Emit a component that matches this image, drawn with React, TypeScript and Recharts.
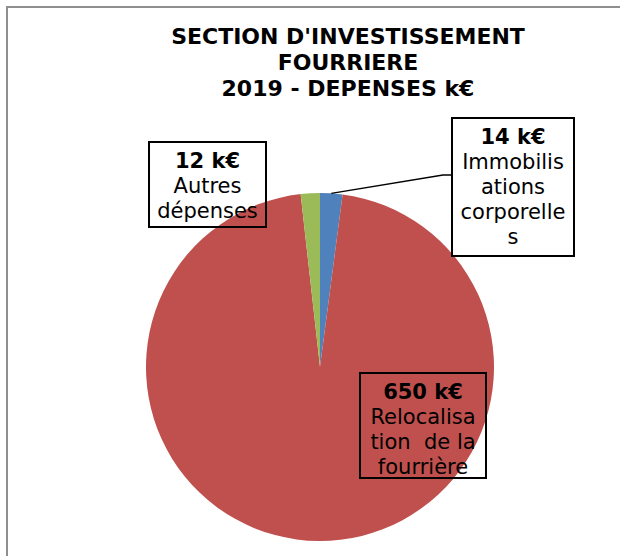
import { PieChart, Pie, Cell } from 'recharts'

const CATEGORIES = ['Immobilisations corporelles', 'Relocalisation de la fourrière', 'Autres dépenses']
const VALUES = [14, 650, 12]
const VALUE_LABELS = ['14 k€', '650 k€', '12 k€']
const LABEL_LINES = [
  ['Immobilis', 'ations', 'corporelle', 's'],
  ['Relocalisa', 'tion  de la', 'fourrière'],
  ['Autres', 'dépenses'],
]
const TITLE_LINES = ["SECTION D'INVESTISSEMENT", 'FOURRIERE', '2019 - DEPENSES k€']

const COLORS = ['#4f81bd', '#c0504d', '#9bbb59']
const FONT = 'Verdana, "DejaVu Sans", sans-serif'

// label box placement, relative to the pie centre
const BOXES = [
  { dx: 132, dy: -249, w: 122, h: 138, leader: true },
  { dx: 40, dy: 6, w: 126, h: 105, leader: false },
  { dx: -171, dy: -225, w: 117, h: 85, leader: false },
]

const data = CATEGORIES.map((name, i) => ({ name, value: VALUES[i] }))

const RADIAN = Math.PI / 180

function renderLabel(props: any) {
  const { cx, cy, midAngle, outerRadius, index } = props
  const box = BOXES[index]
  const x = cx + box.dx
  const y = cy + box.dy
  const lines = [VALUE_LABELS[index], ...LABEL_LINES[index]]
  const px = cx + outerRadius * Math.cos(-midAngle * RADIAN)
  const py = cy + outerRadius * Math.sin(-midAngle * RADIAN)
  return (
    <g key={`lbl-${index}`}>
      {box.leader && (
        <polyline
          points={`${px},${py} ${x - 9},${y + 57} ${x},${y + 57}`}
          fill="none"
          stroke="#000"
          strokeWidth={1.5}
        />
      )}
      <rect x={x} y={y} width={box.w} height={box.h} fill="none" stroke="#000" strokeWidth={2} />
      {lines.map((t, j) => (
        <text
          key={j}
          x={x + box.w / 2}
          y={y + 19 + j * 25}
          textAnchor="middle"
          dominantBaseline="central"
          fontFamily={FONT}
          fontSize={21}
          fontWeight={j === 0 ? 700 : 400}
          fill="#000"
          style={{ whiteSpace: 'pre' }}
        >
          {t}
        </text>
      ))}
    </g>
  )
}

export default function App() {
  return (
    <div
      style={{
        position: 'absolute',
        left: 0,
        top: 0,
        width: 620,
        height: 556,
        background: '#fff',
        overflow: 'hidden',
      }}
    >
      <div
        style={{
          position: 'absolute',
          left: 6,
          top: 6,
          width: 800,
          height: 800,
          border: '2px solid #8f8f8f',
        }}
      />
      <div
        style={{
          position: 'absolute',
          left: 148,
          top: 24,
          width: 400,
          textAlign: 'center',
          fontFamily: FONT,
          fontWeight: 700,
          fontSize: 22,
          lineHeight: '26px',
          color: '#000',
        }}
      >
        {TITLE_LINES.map((t, i) => (
          <div key={i}>{t}</div>
        ))}
      </div>
      <div style={{ position: 'absolute', left: 0, top: 0 }}>
        <PieChart width={620} height={556} margin={{ top: 0, right: 0, bottom: 0, left: 0 }}>
          <Pie
            data={data}
            dataKey="value"
            nameKey="name"
            cx={320}
            cy={367}
            outerRadius={174}
            startAngle={90}
            endAngle={-270}
            stroke="none"
            label={renderLabel}
            labelLine={false}
            isAnimationActive={false}
          >
            {data.map((_, i) => (
              <Cell key={i} fill={COLORS[i]} />
            ))}
          </Pie>
        </PieChart>
      </div>
    </div>
  )
}
